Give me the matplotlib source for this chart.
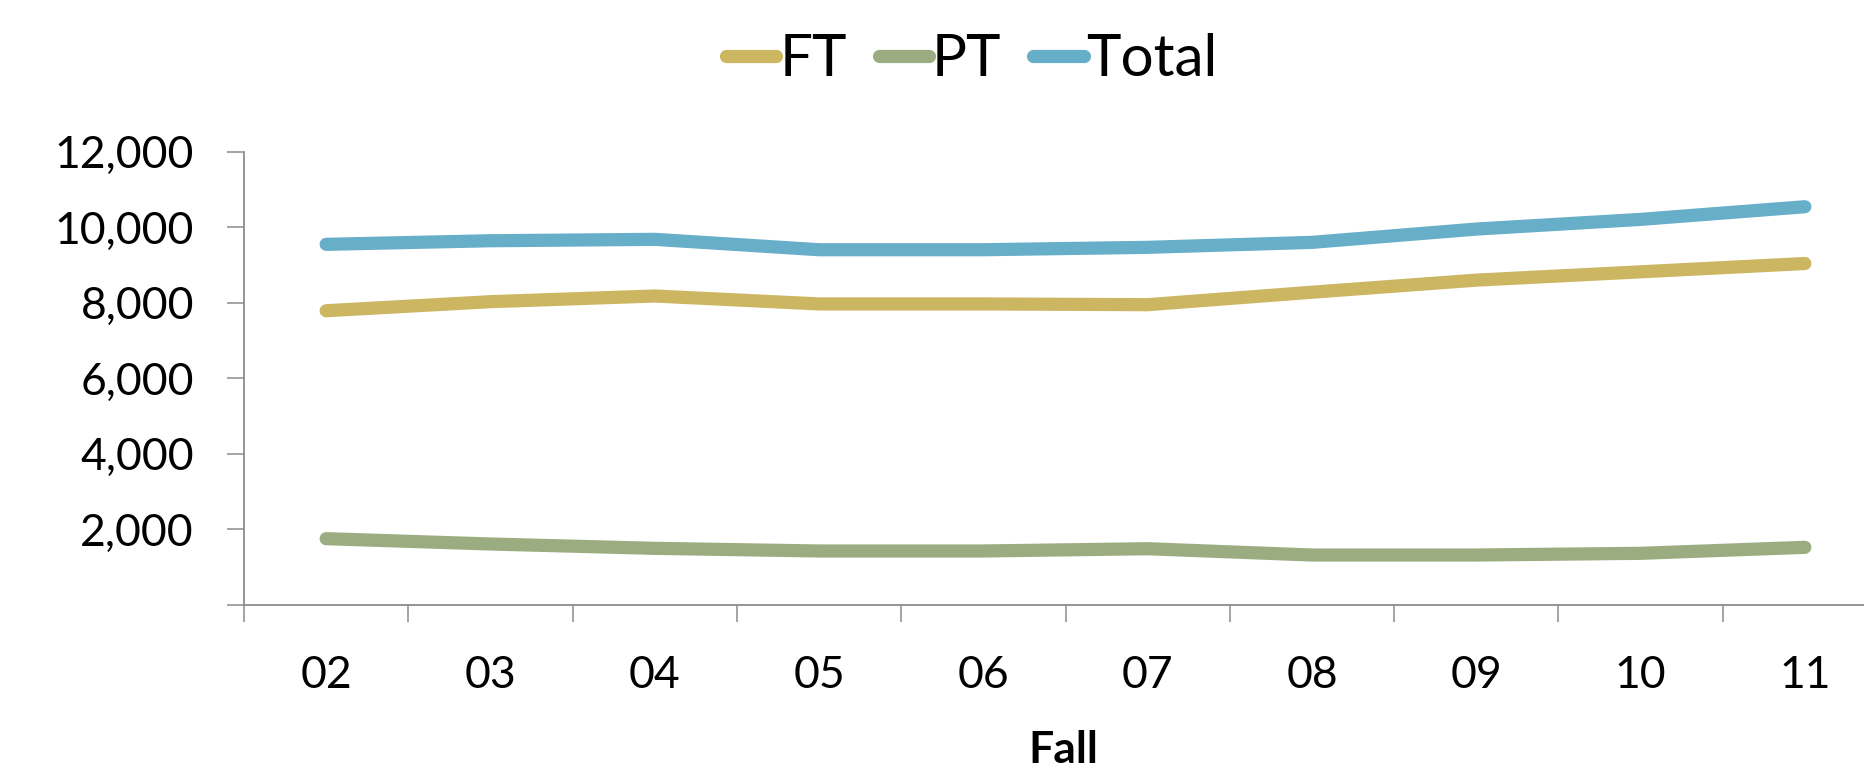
import matplotlib.pyplot as plt
import numpy as np

plt.rcParams['font.family'] = ['Lato', 'DejaVu Sans']

years = ["02", "03", "04", "05", "06", "07", "08", "09", "10", "11"]
ft = [7790, 8030, 8180, 7970, 7970, 7950, 8280, 8600, 8820, 9040]
pt = [1756, 1615, 1500, 1430, 1430, 1490, 1323, 1323, 1368, 1527]
total = [9548, 9643, 9680, 9405, 9405, 9468, 9600, 9952, 10208, 10543]

colors = {"FT": "#CDB662", "PT": "#9BAD80", "Total": "#67AEC8"}
axis_col = "#8C8C8C"

fig = plt.figure(figsize=(18.65, 7.8), dpi=100)
# plot area runs past the right edge, as in the reference
ax = fig.add_axes([244 / 1865, 1 - 605 / 780, 1643 / 1865, 453.3 / 780])

x = np.arange(len(years))
for name, vals in [("FT", ft), ("PT", pt), ("Total", total)]:
    ax.plot(x, vals, color=colors[name], lw=9.5, solid_capstyle='round',
            solid_joinstyle='round', label=name)

ax.set_xlim(-0.5, len(years) - 0.5)
ax.set_ylim(0, 12000)
ax.set_yticks(np.arange(2000, 12001, 2000))
ax.set_yticklabels([f"{v:,}" for v in range(2000, 12001, 2000)])
ax.set_xticks(x)
ax.set_xticklabels(years)
ax.set_xticks(np.arange(-0.5, len(years), 1), minor=True)
ax.tick_params(axis='x', which='major', length=0, pad=36, labelsize=32)
ax.tick_params(axis='x', which='minor', length=12, width=1.1, color=axis_col)
ax.tick_params(axis='y', length=12, width=1.1, color=axis_col, pad=24, labelsize=32)
# tick at zero on the y axis
ax.set_yticks([0], minor=True)
ax.tick_params(axis='y', which='minor', length=12, width=1.1, color=axis_col)

for s in ['top', 'right']:
    ax.spines[s].set_visible(False)
for s in ['left', 'bottom']:
    ax.spines[s].set_color(axis_col)
    ax.spines[s].set_linewidth(1.3)
ax.spines['left'].set_bounds(0, 12000)

ax.set_xlabel("Fall", fontsize=32, fontweight='bold')
ax.xaxis.set_label_coords((1063 - 244) / 1643, -0.275)

fig.legend(loc='center', bbox_to_anchor=(972 / 1865, 1 - 60 / 780), ncol=3,
           frameon=False, fontsize=42, handlelength=0.86, handletextpad=0.05,
           columnspacing=0.55)

plt.savefig("out.png", dpi=100)
